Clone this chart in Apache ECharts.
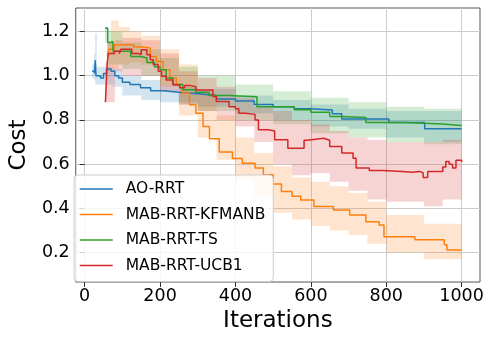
<!DOCTYPE html>
<html>
<head>
<meta charset="utf-8">
<script src="https://cdn.jsdelivr.net/npm/echarts@6/dist/echarts.min.js"></script>
<style>
  html, body { margin: 0; padding: 0; background: #fff; }
  #chart { width: 495px; height: 341px; }
</style>
</head>
<body>
<div id="chart"></div>
<script>
const seriesNames = ["AO-RRT", "MAB-RRT-KFMANB", "MAB-RRT-TS", "MAB-RRT-UCB1"];
const colors = ["#1f77b4", "#ff7f0e", "#2ca02c", "#d62728"];
const xTicks = [0, 200, 400, 600, 800, 1000];
const yTicks = [0.2, 0.4, 0.6, 0.8, 1.0, 1.2];

// mean cost curves, [iteration, cost]
const aoLine = [[20, 1.02], [26, 1.01], [28, 1.07], [30, 1.0], [42, 0.99], [50, 1.01], [58, 1.03], [70, 1.02],
  [80, 1.0], [90, 0.99], [100, 0.97], [120, 0.96], [148, 0.945], [175, 0.932], [210, 0.925], [250, 0.918],
  [300, 0.91], [350, 0.895], [400, 0.885], [450, 0.87], [500, 0.86], [556, 0.85], [600, 0.845], [657, 0.828],
  [682, 0.804], [807, 0.788], [902, 0.76], [1000, 0.757]];
const kfLine = [[60, 1.09], [64, 1.12], [79, 1.14], [130, 1.13], [156, 1.125], [174, 1.087], [190, 1.064],
  [208, 1.027], [226, 0.99], [243, 0.96], [260, 0.922], [278, 0.868], [295, 0.83], [314, 0.77], [331, 0.715],
  [357, 0.655], [392, 0.625], [418, 0.604], [452, 0.582], [474, 0.552], [500, 0.51], [522, 0.476], [550, 0.455],
  [573, 0.438], [608, 0.408], [660, 0.393], [703, 0.37], [746, 0.34], [781, 0.325], [794, 0.272], [876, 0.258],
  [954, 0.235], [961, 0.212], [1000, 0.212]];
const tsLine = [[54, 1.215], [61, 1.15], [68, 1.155], [75, 1.11], [122, 1.087], [148, 1.08], [165, 1.06],
  [185, 1.04], [200, 1.027], [216, 0.99], [234, 0.96], [260, 0.936], [294, 0.925], [330, 0.91], [380, 0.905],
  [457, 0.86], [556, 0.846], [600, 0.835], [650, 0.815], [677, 0.811], [746, 0.788], [850, 0.782],
  [950, 0.775], [1000, 0.772]];
const ucbLine = [[55, 0.88], [60, 1.064], [63, 1.10], [79, 1.11], [92, 1.10], [96, 1.12], [118, 1.12],
  [125, 1.10], [144, 1.095], [150, 1.117], [165, 1.095], [174, 1.072], [182, 1.05], [195, 1.02], [204, 0.997],
  [216, 0.98], [234, 0.959], [252, 0.945], [265, 0.955], [282, 0.95], [295, 0.935], [340, 0.906], [349, 0.883],
  [383, 0.86], [400, 0.85], [409, 0.83], [426, 0.825], [452, 0.80], [461, 0.755], [487, 0.75], [504, 0.71],
  [539, 0.672], [582, 0.708], [591, 0.717], [634, 0.708], [650, 0.68], [682, 0.65], [712, 0.627], [720, 0.582],
  [755, 0.571], [790, 0.567], [842, 0.563], [868, 0.567], [889, 0.56], [898, 0.54], [910, 0.567], [950, 0.587],
  [958, 0.612], [967, 0.6], [976, 0.582], [985, 0.617], [1000, 0.61]];

// spread bands: iteration, lower, upper
const aoBandX = [20, 25, 28, 32, 50, 75, 100, 150, 200, 250, 300, 400, 500, 600, 700, 800, 900, 1000];
const aoBandLo = [0.99, 0.98, 0.96, 0.96, 0.96, 0.95, 0.91, 0.89, 0.88, 0.87, 0.86, 0.83, 0.80, 0.77, 0.76, 0.72, 0.70, 0.70];
const aoBandHi = [1.05, 1.10, 1.19, 1.04, 1.04, 1.03, 1.00, 0.98, 0.96, 0.95, 0.94, 0.91, 0.89, 0.87, 0.85, 0.84, 0.84, 0.84];

const kfBandX = [60, 70, 90, 120, 150, 200, 250, 300, 350, 400, 450, 500, 550, 600, 650, 700, 750, 800, 900, 1000];
const kfBandLo = [1.02, 1.03, 1.05, 1.06, 1.05, 0.95, 0.82, 0.72, 0.62, 0.53, 0.45, 0.38, 0.35, 0.32, 0.30, 0.28, 0.24, 0.20, 0.17, 0.13];
const kfBandHi = [1.15, 1.25, 1.22, 1.20, 1.18, 1.12, 1.05, 0.92, 0.82, 0.72, 0.65, 0.59, 0.54, 0.52, 0.50, 0.47, 0.43, 0.37, 0.33, 0.30];

const tsBandX = [54, 61, 100, 150, 200, 250, 300, 400, 500, 600, 700, 800, 900, 1000];
const tsBandLo = [1.15, 1.05, 1.03, 1.00, 0.96, 0.88, 0.84, 0.80, 0.78, 0.74, 0.72, 0.70, 0.69, 0.69];
const tsBandHi = [1.22, 1.20, 1.15, 1.12, 1.08, 1.04, 1.00, 0.96, 0.93, 0.90, 0.88, 0.86, 0.85, 0.845];

const ucbBandX = [55, 60, 80, 100, 150, 200, 250, 300, 350, 400, 450, 500, 550, 600, 650, 700, 750, 800, 850, 900, 950, 1000];
const ucbBandLo = [0.88, 0.88, 1.02, 1.00, 1.00, 0.93, 0.87, 0.84, 0.80, 0.77, 0.70, 0.60, 0.55, 0.56, 0.52, 0.48, 0.44, 0.43, 0.43, 0.41, 0.44, 0.49];
const ucbBandHi = [1.06, 1.15, 1.16, 1.17, 1.16, 1.10, 1.02, 0.99, 0.95, 0.90, 0.86, 0.84, 0.80, 0.78, 0.75, 0.72, 0.71, 0.70, 0.70, 0.70, 0.71, 0.74];

const lines = [aoLine, kfLine, tsLine, ucbLine];
const bands = [
  [aoBandX, aoBandLo, aoBandHi],
  [kfBandX, kfBandLo, kfBandHi],
  [tsBandX, tsBandLo, tsBandHi],
  [ucbBandX, ucbBandLo, ucbBandHi],
];

const font = "DejaVu Sans";

function hexToRgba(hex, a) {
  const n = parseInt(hex.slice(1), 16);
  return `rgba(${(n >> 16) & 255},${(n >> 8) & 255},${n & 255},${a})`;
}

// stepped polygon (upper edge forward, lower edge back) through the axis scales
function bandRenderer(xs, lo, hi, fill) {
  return (params, api) => {
    if (params.dataIndex !== 0) return null;
    const top = [], bottom = [];
    for (let k = 0; k < xs.length; k++) {
      top.push(api.coord([xs[k], hi[k]]));
      bottom.push(api.coord([xs[k], lo[k]]));
      if (k < xs.length - 1) {
        top.push(api.coord([xs[k + 1], hi[k]]));
        bottom.push(api.coord([xs[k + 1], lo[k]]));
      }
    }
    return {
      type: "polygon",
      shape: { points: top.concat(bottom.reverse()) },
      style: { fill, stroke: null },
      silent: true,
    };
  };
}

const series = [];
bands.forEach(([xs, lo, hi], i) => {
  series.push({
    type: "custom", z: 1, silent: true,
    renderItem: bandRenderer(xs, lo, hi, hexToRgba(colors[i], 0.2)),
    encode: { x: 0, y: [1, 2] },
    data: xs.map((x, k) => [x, lo[k], hi[k]]),
  });
});
lines.forEach((pts, i) => {
  series.push({
    name: seriesNames[i], type: "line", step: "end", symbol: "none", showSymbol: false, z: 3,
    color: colors[i],
    lineStyle: { color: colors[i], width: 1.5 },
    data: pts,
  });
});

const chart = echarts.init(document.getElementById("chart"), null, { renderer: "canvas" });
chart.setOption({
  animation: false,
  textStyle: { fontFamily: font },
  grid: { left: 66, right: 15, top: 8, bottom: 59, show: true, borderColor: "#555", borderWidth: 1, backgroundColor: "transparent" },
  legend: {
    data: seriesNames,
    orient: "vertical",
    left: 74, top: 175,
    itemWidth: 33, itemHeight: 14, itemGap: 9.5,
    padding: [6, 8, 8, 5],
    backgroundColor: "rgba(255,255,255,0.8)",
    borderColor: "#cccccc", borderWidth: 1, borderRadius: 4,
    itemStyle: { opacity: 0 },
    lineStyle: { width: 1.5 },
    textStyle: { fontFamily: font, fontSize: 15.5, color: "#000", padding: [0, 0, 0, 8] },
  },
  xAxis: {
    type: "value", min: -23.75, max: 1048.75,
    name: "Iterations", nameLocation: "middle", nameGap: 23,
    nameTextStyle: { fontFamily: font, fontSize: 23, color: "#000" },
    axisLine: { show: false },
    axisTick: { show: true, length: 5, customValues: xTicks, lineStyle: { color: "#333" } },
    axisLabel: { customValues: xTicks, margin: 5, fontFamily: font, fontSize: 17.5, color: "#000",
      formatter: (v) => String(v) },
    splitLine: { show: true, lineStyle: { color: "#cccccc", width: 1 } },
  },
  yAxis: {
    type: "value", min: 0.067, max: 1.306,
    name: "Cost", nameLocation: "middle", nameGap: 42,
    nameTextStyle: { fontFamily: font, fontSize: 23, color: "#000" },
    axisLine: { show: false },
    axisTick: { show: true, length: 5, customValues: yTicks, lineStyle: { color: "#333" } },
    axisLabel: { customValues: yTicks, margin: 6, fontFamily: font, fontSize: 17.5, color: "#000",
      formatter: (v) => v.toFixed(1) },
    splitLine: { show: true, lineStyle: { color: "#cccccc", width: 1 } },
  },
  series,
});
</script>
</body>
</html>
